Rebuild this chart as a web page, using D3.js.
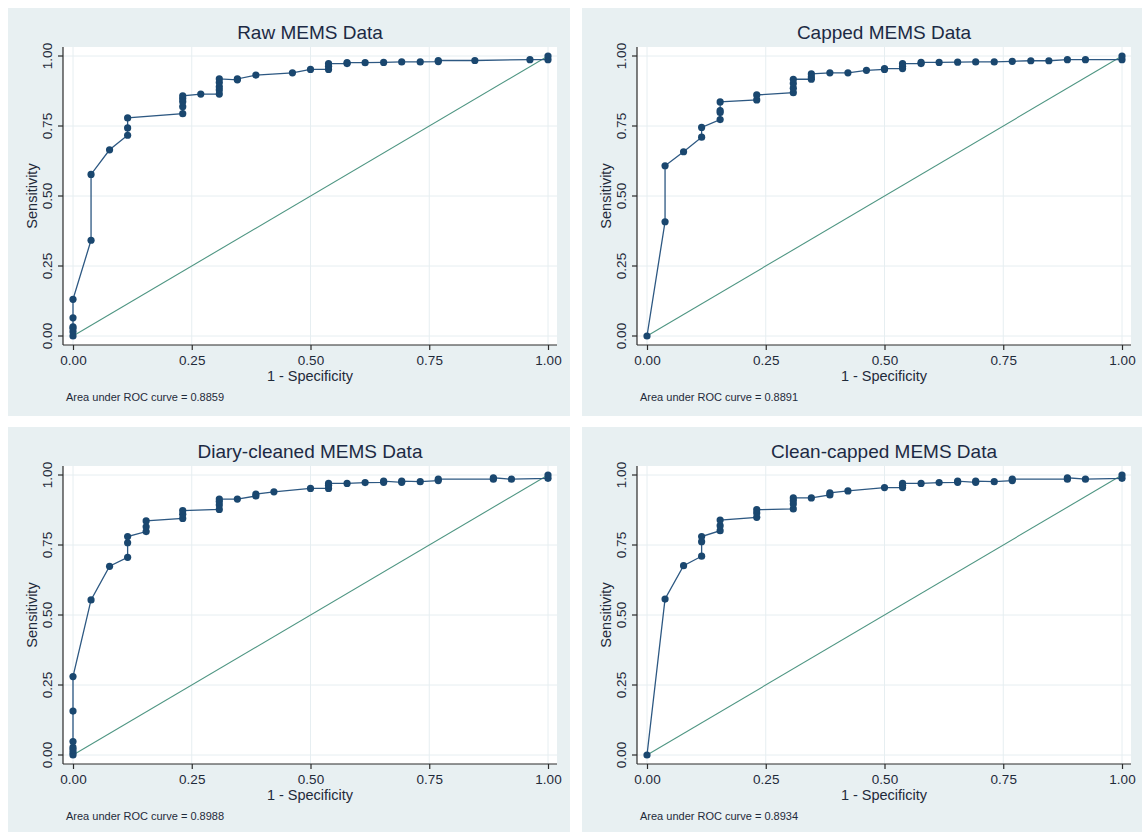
<!DOCTYPE html>
<html lang="en">
	<head>
		<meta charset="utf-8">
		<title>ROC curves - MEMS data</title>
		<script src="https://d3js.org/d3.v7.min.js"></script>
		<style type="text/css">
			body { margin: 0; background: #ffffff; }
			text { font-family: Arial, "Liberation Sans", sans-serif; }
		</style>
	</head>
	<body>
		<script type="text/javascript">
			//Panel titles and AUC labels
			let titles = ["Raw MEMS Data", "Capped MEMS Data", "Diary-cleaned MEMS Data", "Clean-capped MEMS Data"];
			let aucValues = ["0.8859", "0.8891", "0.8988", "0.8934"];
			let tickValues = [0, 0.25, 0.5, 0.75, 1];

			//Raw MEMS data (1 - specificity, sensitivity)
			let rawFpr = [0, 0, 0, 0, 0, 0, 0.038, 0.038, 0.077, 0.115, 0.115, 0.115, 0.231, 0.231, 0.231, 0.231, 0.231, 0.269,
				0.308, 0.308, 0.308, 0.308, 0.308, 0.346, 0.346, 0.385, 0.462, 0.5, 0.538, 0.538, 0.538, 0.577, 0.577,
				0.615, 0.654, 0.692, 0.731, 0.769, 0.769, 0.846, 0.962, 1, 1];
			let rawTpr = [0, 0.015, 0.027, 0.033, 0.065, 0.131, 0.342, 0.577, 0.665, 0.717, 0.743, 0.779, 0.794, 0.819, 0.837, 0.848, 0.858, 0.864,
				0.864, 0.879, 0.890, 0.905, 0.918, 0.915, 0.918, 0.932, 0.940, 0.952, 0.952, 0.963, 0.973, 0.973, 0.976,
				0.976, 0.977, 0.979, 0.979, 0.980, 0.984, 0.984, 0.987, 0.987, 1];

			//Capped MEMS data
			let cappedFpr = [0, 0.038, 0.038, 0.077, 0.115, 0.115, 0.154, 0.154, 0.154, 0.154, 0.231, 0.231,
				0.308, 0.308, 0.308, 0.308, 0.346, 0.346, 0.346, 0.385, 0.423, 0.462, 0.5, 0.5, 0.538, 0.538, 0.538,
				0.577, 0.577, 0.615, 0.654, 0.692, 0.731, 0.769, 0.808, 0.846, 0.885, 0.923, 1, 1];
			let cappedTpr = [0, 0.408, 0.608, 0.658, 0.710, 0.745, 0.773, 0.798, 0.805, 0.836, 0.843, 0.861,
				0.869, 0.885, 0.902, 0.917, 0.917, 0.925, 0.936, 0.940, 0.940, 0.949, 0.952, 0.955, 0.955, 0.963, 0.973,
				0.973, 0.977, 0.977, 0.978, 0.979, 0.979, 0.981, 0.983, 0.983, 0.987, 0.987, 0.987, 1];

			//Diary-cleaned MEMS data
			let cleanedFpr = [0, 0, 0, 0, 0, 0, 0, 0.038, 0.077, 0.115, 0.115, 0.115, 0.154, 0.154, 0.154, 0.231, 0.231, 0.231,
				0.308, 0.308, 0.308, 0.308, 0.346, 0.385, 0.385, 0.423, 0.5, 0.538, 0.538, 0.538, 0.577, 0.615,
				0.654, 0.654, 0.692, 0.692, 0.731, 0.769, 0.769, 0.885, 0.885, 0.923, 1, 1];
			let cleanedTpr = [0, 0.008, 0.018, 0.027, 0.048, 0.157, 0.280, 0.554, 0.674, 0.706, 0.758, 0.780, 0.798, 0.815, 0.836, 0.845, 0.860, 0.873,
				0.877, 0.893, 0.905, 0.914, 0.914, 0.925, 0.932, 0.940, 0.952, 0.952, 0.963, 0.970, 0.970, 0.973,
				0.974, 0.978, 0.974, 0.978, 0.976, 0.980, 0.985, 0.985, 0.990, 0.985, 0.988, 1];

			//Clean-capped MEMS data
			let cleanCappedFpr = [0, 0.038, 0.077, 0.115, 0.115, 0.115, 0.154, 0.154, 0.154, 0.231, 0.231, 0.231,
				0.308, 0.308, 0.308, 0.308, 0.346, 0.385, 0.385, 0.423, 0.5, 0.538, 0.538, 0.538, 0.577, 0.615,
				0.654, 0.654, 0.692, 0.692, 0.731, 0.769, 0.769, 0.885, 0.885, 0.923, 1, 1];
			let cleanCappedTpr = [0, 0.557, 0.676, 0.710, 0.762, 0.780, 0.801, 0.819, 0.839, 0.849, 0.864, 0.876,
				0.879, 0.896, 0.908, 0.918, 0.918, 0.929, 0.936, 0.943, 0.955, 0.955, 0.963, 0.970, 0.970, 0.973,
				0.974, 0.978, 0.974, 0.978, 0.976, 0.980, 0.985, 0.985, 0.990, 0.985, 0.988, 1];

			let series = [
				d3.zip(rawFpr, rawTpr),
				d3.zip(cappedFpr, cappedTpr),
				d3.zip(cleanedFpr, cleanedTpr),
				d3.zip(cleanCappedFpr, cleanCappedTpr)
			];

			//Width and height
			let w = 1142;
			let h = 834;
			let panelW = 562;
			let panelH = 408;
			let panelPos = [[8, 8], [582, 8], [8, 427], [582, 427]];

			//Plot area inside a panel
			let plotLeft = 55, plotRight = 549, plotTop = 39, plotBottom = 337;

			let navy = "#1a476f";
			let textColor = "#1f2a3a";

			//Create SVG element
			let svg = d3.select("body")
						.append("svg")
						.attr("width", w)
						.attr("height", h);

			//Create scale functions
			let xScale = d3.scaleLinear()
						.domain([0, 1])
						.range([65, 540]);
			let yScale = d3.scaleLinear()
						.domain([0, 1])
						.range([328, 48]);

			series.forEach(function(data, i) {
				let g = svg.append("g")
					.attr("transform", "translate(" + panelPos[i][0] + "," + panelPos[i][1] + ")");

				//Panel background
				g.append("rect")
					.attr("width", panelW)
					.attr("height", i < 2 ? panelH : 405)
					.attr("fill", "#e8f0f2");

				//Plot region
				g.append("rect")
					.attr("x", plotLeft)
					.attr("y", plotTop)
					.attr("width", plotRight - plotLeft)
					.attr("height", plotBottom - plotTop)
					.attr("fill", "#ffffff");

				//Grid lines
				g.append("g")
					.selectAll("line.gx")
					.data(tickValues)
					.enter()
					.append("line")
					.attr("x1", function(d) { return xScale(d); })
					.attr("x2", function(d) { return xScale(d); })
					.attr("y1", plotTop)
					.attr("y2", plotBottom)
					.attr("stroke", "#e6eef1")
					.attr("stroke-width", 1);
				g.append("g")
					.selectAll("line.gy")
					.data(tickValues)
					.enter()
					.append("line")
					.attr("y1", function(d) { return yScale(d); })
					.attr("y2", function(d) { return yScale(d); })
					.attr("x1", plotLeft)
					.attr("x2", plotRight)
					.attr("stroke", "#e6eef1")
					.attr("stroke-width", 1);

				//Define X axis
				let xAxis = d3.axisBottom()
							.scale(xScale)
							.tickValues(tickValues)
							.tickFormat(d3.format(".2f"))
							.tickSize(5)
							.tickSizeOuter(0);
				//Define Y axis
				let yAxis = d3.axisLeft()
							.scale(yScale)
							.tickValues(tickValues)
							.tickFormat(d3.format(".2f"))
							.tickSize(5)
							.tickSizeOuter(0);

				let gx = g.append("g")
					.attr("class", "x axis")
					.attr("transform", "translate(0," + plotBottom + ")")
					.call(xAxis);
				gx.select(".domain").attr("d", "M" + plotLeft + ",0H" + plotRight);
				gx.selectAll("text")
					.attr("y", 10)
					.attr("font-size", "13.5px")
					.attr("fill", textColor);

				let gy = g.append("g")
					.attr("class", "y axis")
					.attr("transform", "translate(" + plotLeft + ",0)")
					.call(yAxis);
				gy.select(".domain").attr("d", "M0," + plotTop + "V" + plotBottom);
				gy.selectAll("text")
					.attr("x", null)
					.attr("dy", null)
					.attr("transform", function(d) { return "translate(-11," + yScale(d) + ") rotate(-90)"; })
					.attr("y", 0)
					.attr("text-anchor", "middle")
					.attr("font-size", "13.5px")
					.attr("fill", textColor);
				gy.selectAll(".tick").attr("transform", "translate(0,0)");
				gy.selectAll(".tick line")
					.attr("y1", function(d) { return yScale(d); })
					.attr("y2", function(d) { return yScale(d); });

				g.selectAll(".domain, .tick line")
					.attr("stroke", "#2b2b2b")
					.attr("stroke-width", 1.2);

				//Reference diagonal
				g.append("line")
					.attr("x1", xScale(0))
					.attr("y1", yScale(0))
					.attr("x2", xScale(1))
					.attr("y2", yScale(1))
					.attr("stroke", "#4f9683")
					.attr("stroke-width", 1.1);

				//ROC curve
				let line = d3.line()
					.x(function(d) { return xScale(d[0]); })
					.y(function(d) { return yScale(d[1]); });
				g.append("path")
					.datum(data)
					.attr("d", line)
					.attr("fill", "none")
					.attr("stroke", "#2d5882")
					.attr("stroke-width", 1.3);

				//Create circles
				g.append("g")
					.selectAll("circle")
					.data(data)
					.enter()
					.append("circle")
					.attr("cx", function(d) { return xScale(d[0]); })
					.attr("cy", function(d) { return yScale(d[1]); })
					.attr("r", 3.6)
					.attr("fill", navy);

				//Title
				g.append("text")
					.attr("x", (plotLeft + plotRight) / 2)
					.attr("y", 31)
					.attr("text-anchor", "middle")
					.attr("font-size", "19px")
					.attr("fill", "#1c2a44")
					.text(titles[i]);

				//Axis titles
				g.append("text")
					.attr("x", (plotLeft + plotRight) / 2)
					.attr("y", 373)
					.attr("text-anchor", "middle")
					.attr("font-size", "14.5px")
					.attr("fill", textColor)
					.text("1 - Specificity");
				g.append("text")
					.attr("transform", "translate(29," + yScale(0.5) + ") rotate(-90)")
					.attr("text-anchor", "middle")
					.attr("font-size", "14.5px")
					.attr("fill", textColor)
					.text("Sensitivity");

				//AUC note
				g.append("text")
					.attr("x", 58)
					.attr("y", 393)
					.attr("font-size", "11px")
					.attr("fill", textColor)
					.text("Area under ROC curve = " + aucValues[i]);
			});
		</script>
	</body>
</html>
